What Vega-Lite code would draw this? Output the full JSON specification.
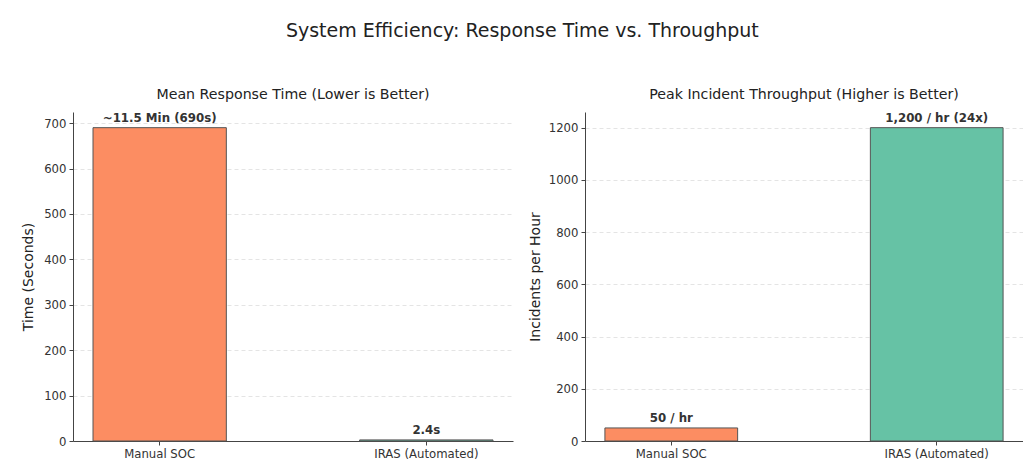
{
  "$schema": "https://vega.github.io/schema/vega-lite/v6.json",
  "background": "white",
  "padding": {"left": 21, "top": 21, "right": 0, "bottom": 5},
  "title": {"text": "System Efficiency: Response Time vs. Throughput", "fontSize": 19, "font": "DejaVu Sans", "fontWeight": "normal", "anchor": "middle", "offset": 47, "color": "#222"},
  "config": {
    "font": "DejaVu Sans",
    "view": {"stroke": null},
    "axis": {"labelFont": "DejaVu Sans", "labelFontSize": 11.7, "labelColor": "#333", "titleFont": "DejaVu Sans", "titleFontSize": 14, "titleFontWeight": "normal", "titleColor": "#222", "domainColor": "#444", "tickColor": "#444", "tickSize": 4, "labelPadding": 3},
    "axisY": {"grid": true, "gridDash": [4, 3], "gridColor": "#ddd", "gridWidth": 0.8},
    "axisX": {"grid": false, "labelAngle": 0},
    "title": {"font": "DejaVu Sans", "fontSize": 14.2, "fontWeight": "normal", "color": "#222"}
  },
  "spacing": 72,
  "bounds": "flush",
  "resolve": {"scale": {"y": "independent", "x": "independent"}},
  "hconcat": [
    {
      "width": 440,
      "height": 329,
      "title": {"text": "Mean Response Time (Lower is Better)", "offset": 10},
      "data": {"values": [
        {"system": "Manual SOC", "value": 690, "label": "~11.5 Min (690s)"},
        {"system": "IRAS (Automated)", "value": 2.4, "label": "2.4s"}
      ]},
      "encoding": {
        "x": {"field": "system", "type": "nominal", "sort": null, "scale": {"paddingInner": 0.5, "paddingOuter": 0.075}, "axis": {"title": null}}
      },
      "layer": [
        {
          "mark": {"type": "bar", "stroke": "#555", "strokeWidth": 1},
          "encoding": {
            "y": {"field": "value", "type": "quantitative", "scale": {"domain": [0, 724.5], "nice": false}, "axis": {"title": "Time (Seconds)", "format": "d", "values": [0, 100, 200, 300, 400, 500, 600, 700], "titlePadding": 8}},
            "color": {"field": "system", "type": "nominal", "scale": {"domain": ["Manual SOC", "IRAS (Automated)"], "range": ["#fc8d62", "#66c2a5"]}, "legend": null}
          }
        },
        {
          "mark": {"type": "text", "fontWeight": "bold", "fontSize": 11.8, "dy": -6, "baseline": "alphabetic", "color": "#333"},
          "encoding": {
            "y": {"field": "value", "type": "quantitative"},
            "text": {"field": "label"}
          }
        }
      ]
    },
    {
      "width": 438,
      "height": 329,
      "title": {"text": "Peak Incident Throughput (Higher is Better)", "offset": 10},
      "data": {"values": [
        {"system": "Manual SOC", "value": 50, "label": "50 / hr"},
        {"system": "IRAS (Automated)", "value": 1200, "label": "1,200 / hr (24x)"}
      ]},
      "encoding": {
        "x": {"field": "system", "type": "nominal", "sort": null, "scale": {"paddingInner": 0.5, "paddingOuter": 0.075}, "axis": {"title": null}}
      },
      "layer": [
        {
          "mark": {"type": "bar", "stroke": "#555", "strokeWidth": 1},
          "encoding": {
            "y": {"field": "value", "type": "quantitative", "scale": {"domain": [0, 1260], "nice": false}, "axis": {"title": "Incidents per Hour", "format": "d", "values": [0, 200, 400, 600, 800, 1000, 1200], "titlePadding": 6}},
            "color": {"field": "system", "type": "nominal", "scale": {"domain": ["Manual SOC", "IRAS (Automated)"], "range": ["#fc8d62", "#66c2a5"]}, "legend": null}
          }
        },
        {
          "mark": {"type": "text", "fontWeight": "bold", "fontSize": 11.8, "dy": -6, "baseline": "alphabetic", "color": "#333"},
          "encoding": {
            "y": {"field": "value", "type": "quantitative"},
            "text": {"field": "label"}
          }
        }
      ]
    }
  ]
}
